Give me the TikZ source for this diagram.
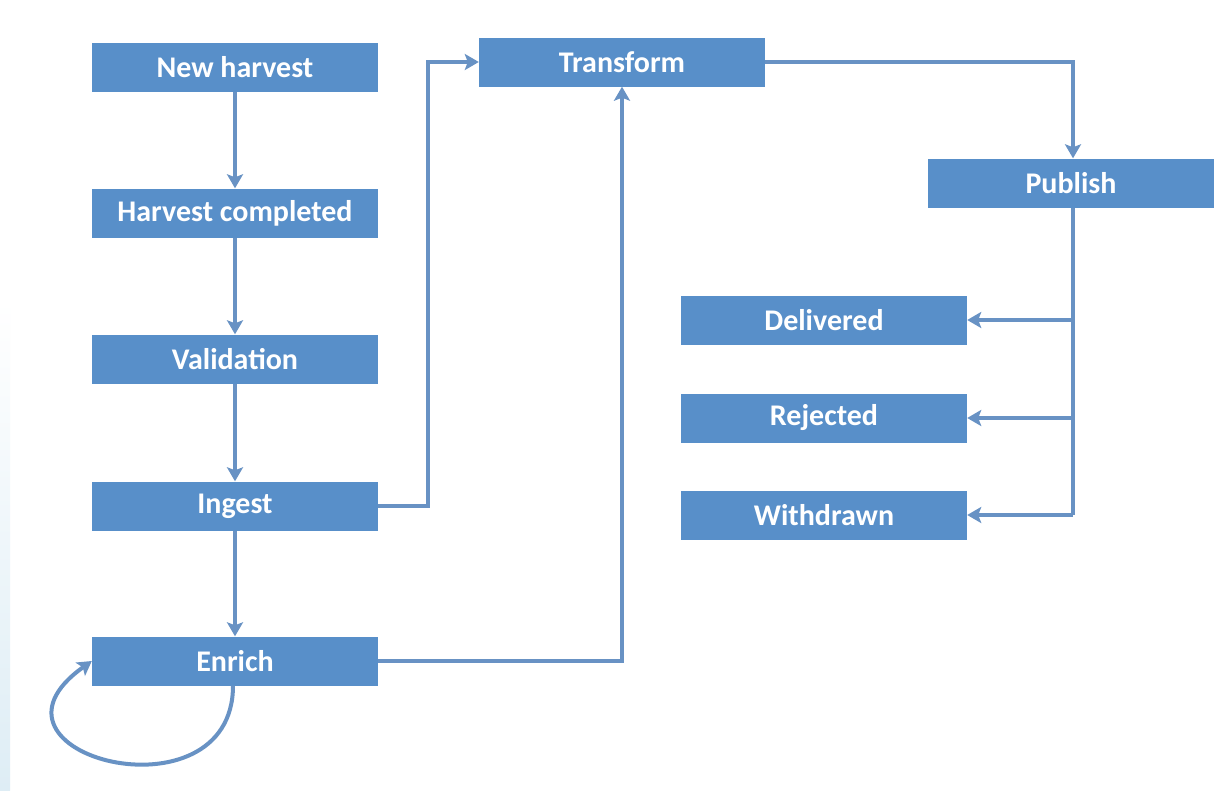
\documentclass[tikz,border=0pt]{standalone}
\usepackage{fontspec}
\setmainfont{Carlito}
\usetikzlibrary{arrows.meta}
\definecolor{boxblue}{RGB}{88,143,201}
\definecolor{lineblue}{RGB}{104,146,196}
\definecolor{edgeblue}{RGB}{222,237,245}
\tikzset{
  stepbox/.style={draw=none, fill=boxblue, text=white, minimum width=286pt, minimum height=49pt, inner sep=0pt, font=\bfseries\fontsize{30}{36}\selectfont},
  conn/.style={draw=lineblue, line width=4pt, -{Stealth[length=14pt,width=16pt,inset=3pt]}},
  plain/.style={draw=lineblue, line width=4pt}
}
\begin{document}
\begin{tikzpicture}[x=1pt,y=-1pt]
\useasboundingbox (0,0) rectangle (1215,790);
\fill[white] (0,0) rectangle (1215,790);
\shade[top color=white, bottom color=edgeblue] (0,300) rectangle (10,790);

\node[stepbox] (nh) at (235,67) {New harvest};
\node[stepbox] (hc) at (235,213) {Harvest completed};
\node[stepbox] (va) at (235,359) {Validation};
\node[stepbox] (in) at (235,506) {Ingest};
\node[stepbox] (en) at (235,661) {Enrich};
\node[stepbox] (tr) at (622,62) {Transform};
\node[stepbox] (pu) at (1071,183) {Publish};
\node[stepbox] (de) at (824,320) {Delivered};
\node[stepbox] (re) at (824,418) {Rejected};
\node[stepbox] (wi) at (824,515) {Withdrawn};

\coordinate (c1) at (428,506);
\coordinate (c2) at (428,62);
\coordinate (c3) at (622,661);
\coordinate (c4) at (1073,62);
\coordinate (c5) at (1073,320);
\coordinate (c6) at (1073,418);
\coordinate (c7) at (1073,515);

\draw[conn] (nh) -- (hc);
\draw[conn] (hc) -- (va);
\draw[conn] (va) -- (in);
\draw[conn] (in) -- (en);
\draw[conn] (in.east) -- (c1) -- (c2) -- (tr.west);
\draw[conn] (en.east) -- (c3) -- (tr.south);
\draw[conn] (tr.east) -- (c4) -- (pu.north -| c4);
\draw[plain] (pu.south -| c5) -- (c7);
\draw[conn] (c5) -- (de.east);
\draw[conn] (c6) -- (re.east);
\draw[conn] (c7) -- (wi.east);
\draw[conn] ([xshift=-2pt]en.south) .. controls (233,825) and (-40,755) .. (en.west);
\end{tikzpicture}
\end{document}
